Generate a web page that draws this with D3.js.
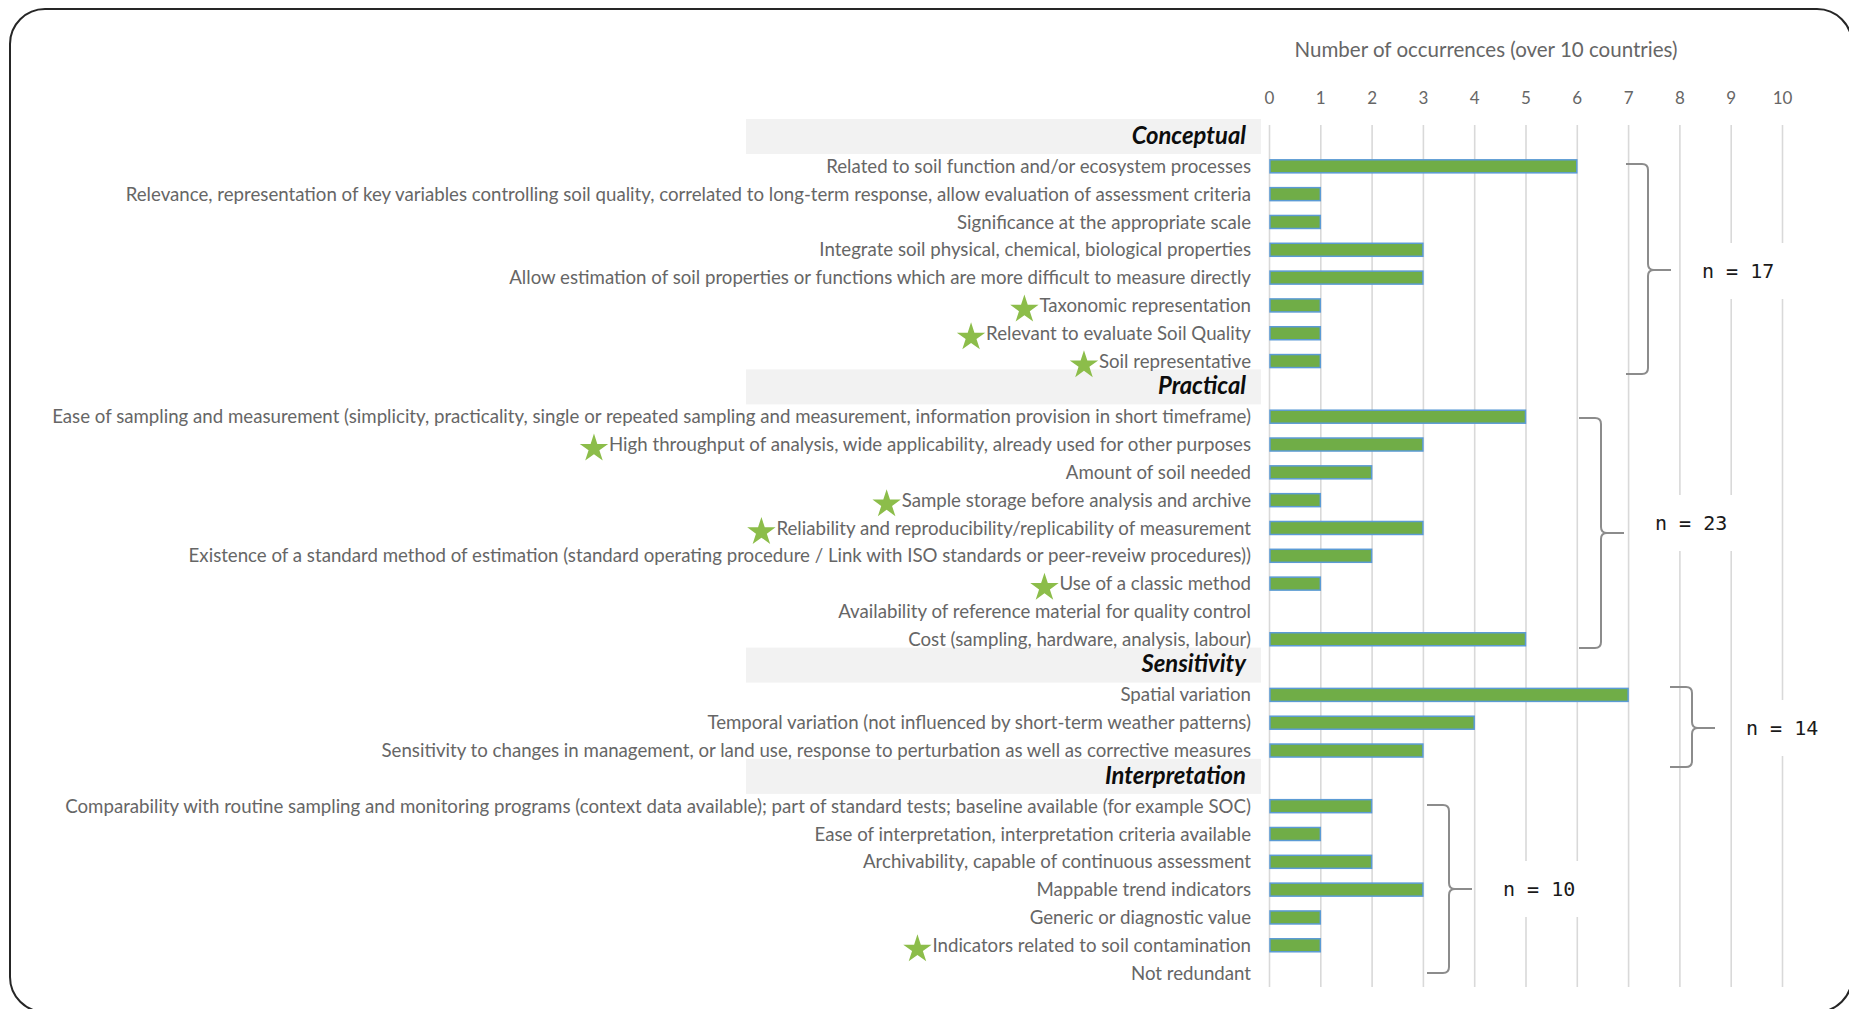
<!DOCTYPE html>
<html>
<head>
<meta charset="utf-8">
<script src="https://cdn.jsdelivr.net/npm/d3@7"></script>
<style>
html,body{margin:0;padding:0;background:#fff;}
svg{display:block;}
</style>
</head>
<body>
<svg id="chart" width="1849" height="1009"></svg>
<script>
// ---------------- DATA ----------------
const groups = ["Conceptual", "Practical", "Sensitivity", "Interpretation"];
const groupTotals = ["n = 17", "n = 23", "n = 14", "n = 10"];

const criteria = [
  "Related to soil function and/or ecosystem processes",
  "Relevance, representation of key variables controlling soil quality, correlated to long-term response, allow evaluation of assessment criteria",
  "Significance at the appropriate scale",
  "Integrate soil physical, chemical, biological properties",
  "Allow estimation of soil properties or functions which are more difficult to measure directly",
  "Taxonomic representation",
  "Relevant to evaluate Soil Quality",
  "Soil representative",
  "Ease of sampling and measurement (simplicity, practicality, single or repeated sampling and measurement, information provision in short timeframe)",
  "High throughput of analysis, wide applicability, already used for other purposes",
  "Amount of soil needed",
  "Sample storage before analysis and archive",
  "Reliability and reproducibility/replicability of measurement",
  "Existence of a standard method of estimation (standard operating procedure / Link with ISO standards or peer-reveiw procedures))",
  "Use of a classic method",
  "Availability of reference material for quality control",
  "Cost (sampling, hardware, analysis, labour)",
  "Spatial variation",
  "Temporal variation (not influenced by short-term weather patterns)",
  "Sensitivity to changes in management, or land use, response to perturbation as well as corrective measures",
  "Comparability with routine sampling and monitoring programs (context data available); part of standard tests; baseline available (for example SOC)",
  "Ease of interpretation, interpretation criteria available",
  "Archivability, capable of continuous assessment",
  "Mappable trend indicators",
  "Generic or diagnostic value",
  "Indicators related to soil contamination",
  "Not redundant"
];
const criteriaGroup = [
  "Conceptual","Conceptual","Conceptual","Conceptual","Conceptual","Conceptual","Conceptual","Conceptual",
  "Practical","Practical","Practical","Practical","Practical","Practical","Practical","Practical","Practical",
  "Sensitivity","Sensitivity","Sensitivity",
  "Interpretation","Interpretation","Interpretation","Interpretation","Interpretation","Interpretation","Interpretation"
];
const occurrences = [6,1,1,3,3,1,1,1, 5,3,2,1,3,2,1,0,5, 7,4,3, 2,1,2,3,1,1,0];
const starredCriteria = [
  "Taxonomic representation",
  "Relevant to evaluate Soil Quality",
  "Soil representative",
  "High throughput of analysis, wide applicability, already used for other purposes",
  "Sample storage before analysis and archive",
  "Reliability and reproducibility/replicability of measurement",
  "Use of a classic method",
  "Indicators related to soil contamination"
];
const xTicks = [0,1,2,3,4,5,6,7,8,9,10];
const axisTitle = "Number of occurrences (over 10 countries)";

// ---------------- LAYOUT ----------------
const svg = d3.select("#chart");
const FONT = "Lato, 'Open Sans', sans-serif";
const LABEL_COLOR = "#666666";

// rows: header row per group followed by its criteria
const rows = [];
groups.forEach(g => {
  rows.push({type: "header", label: g, group: g});
  criteria.forEach((c, i) => {
    if (criteriaGroup[i] === g) rows.push({type: "item", label: c, group: g, value: occurrences[i], star: starredCriteria.includes(c)});
  });
});
rows.forEach((r, i) => r.idx = i);

const y = d3.scaleBand().domain(rows.map(r => r.idx)).range([124.6, 987]).paddingInner(0).paddingOuter(0);
const x = d3.scaleLinear().domain([0, 10]).range([1269, 1782]);
const yc = i => y(i) + y.bandwidth() / 2;

// helper: fit font size so that text width matches a target width
function fitSize(text, weight, style, family, target) {
  const t = svg.append("text").attr("font-family", family).attr("font-size", 20)
    .attr("font-weight", weight).attr("font-style", style).text(text);
  const w = t.node().getComputedTextLength();
  t.remove();
  return 20 * target / w;
}
const labelSize = fitSize(criteria[8], "normal", "normal", FONT, 1200);
const headerSize = fitSize("Interpretation", "bold", "italic", FONT, 141);
const titleSize = fitSize(axisTitle, "normal", "normal", FONT, 383);

// outer rounded frame
svg.append("rect").attr("x", 10).attr("y", 9).attr("width", 1842).attr("height", 1003)
  .attr("rx", 35).attr("ry", 35).attr("fill", "#fff").attr("stroke", "#262626").attr("stroke-width", 2);

// header background bands
const headers = rows.filter(r => r.type === "header");
svg.append("g").selectAll("rect").data(headers).join("rect")
  .attr("x", 746).attr("width", 1261 - 746)
  .attr("y", d => yc(d.idx) - 19.5).attr("height", 35)
  .attr("fill", "#f2f2f2");

// gridlines + tick labels
const axis = d3.axisTop(x).tickValues(xTicks).tickFormat(d3.format("d"))
  .tickSizeInner(-(987 - 125)).tickSizeOuter(0).tickPadding(21);
const gAxis = svg.append("g").attr("transform", "translate(0,125)").call(axis);
gAxis.select(".domain").remove();
gAxis.selectAll(".tick line").attr("stroke", "#d9d9d9").attr("stroke-width", 1.6);
gAxis.selectAll(".tick text").attr("fill", LABEL_COLOR).attr("font-family", FONT).attr("font-size", 17);

// axis title
svg.append("text").attr("x", 1486).attr("y", 50).attr("dy", "0.35em")
  .attr("text-anchor", "middle").attr("font-family", FONT).attr("font-size", titleSize)
  .attr("fill", LABEL_COLOR).text(axisTitle);

// bars
const items = rows.filter(r => r.type === "item");
svg.append("g").selectAll("rect").data(items.filter(d => d.value > 0)).join("rect")
  .attr("x", x(0) + 1).attr("y", d => yc(d.idx) - 6.5)
  .attr("width", d => x(d.value) - x(0) - 1).attr("height", 13)
  .attr("fill", "#70ad47").attr("stroke", "#5b9bd5").attr("stroke-width", 1.5);

// header labels
svg.append("g").selectAll("text").data(headers).join("text")
  .attr("x", 1246).attr("y", d => yc(d.idx) - 3).attr("dy", "0.35em")
  .attr("text-anchor", "end").attr("font-family", FONT).attr("font-size", headerSize)
  .attr("font-weight", "bold").attr("font-style", "italic").attr("fill", "#0d0d0d")
  .text(d => d.label);

// item labels
const itemLabels = svg.append("g").selectAll("text").data(items).join("text")
  .attr("x", 1251).attr("y", d => yc(d.idx)).attr("dy", "0.35em")
  .attr("text-anchor", "end").attr("font-family", FONT).attr("font-size", labelSize)
  .attr("fill", LABEL_COLOR).text(d => d.label);

// stars left of starred labels
const starPath = d3.symbol().type(d3.symbolStar).size(250)();
itemLabels.each(function(d) {
  if (!d.star) return;
  const w = this.getComputedTextLength();
  const sx = 1251 - w - 15;
  svg.append("path").attr("d", starPath)
    .attr("transform", `translate(${sx},${yc(d.idx) + 4})`)
    .attr("fill", "#8cbd4a");
});

// braces with group totals
const braceLayout = [
  {left: 1626, top: 164, bottom: 374, tipY: 270, labelY: 271},
  {left: 1579, top: 418, bottom: 648, tipY: 533, labelY: 523},
  {left: 1670, top: 687, bottom: 767, tipY: 728, labelY: 728},
  {left: 1427, top: 805, bottom: 973, tipY: 889, labelY: 889}
];
const rr = 6;
braceLayout.forEach((b, i) => {
  const vx = b.left + 22, tx = vx + 23;
  const p = d3.path();
  p.moveTo(b.left, b.top);
  p.lineTo(vx - rr, b.top);
  p.quadraticCurveTo(vx, b.top, vx, b.top + rr);
  p.lineTo(vx, b.tipY - rr);
  p.quadraticCurveTo(vx, b.tipY, vx + rr, b.tipY);
  p.lineTo(tx, b.tipY);
  p.moveTo(vx + rr, b.tipY);
  p.quadraticCurveTo(vx, b.tipY, vx, b.tipY + rr);
  p.lineTo(vx, b.bottom - rr);
  p.quadraticCurveTo(vx, b.bottom, vx - rr, b.bottom);
  p.lineTo(b.left, b.bottom);
  svg.append("path").attr("d", p.toString()).attr("fill", "none")
    .attr("stroke", "#8c8c8c").attr("stroke-width", 2);

  const lx = tx + 31;
  const g = svg.append("g");
  const bg = g.append("rect");
  const t = g.append("text").attr("x", lx).attr("y", b.labelY).attr("dy", "0.35em")
    .attr("font-family", "'DejaVu Sans Mono', monospace").attr("font-size", 20)
    .attr("fill", "#1a1a1a").text(groupTotals[i]);
  const w = t.node().getComputedTextLength();
  bg.attr("x", lx - 12).attr("y", b.labelY - 28).attr("width", w + 24).attr("height", 56).attr("fill", "#fff");
});
</script>
</body>
</html>
